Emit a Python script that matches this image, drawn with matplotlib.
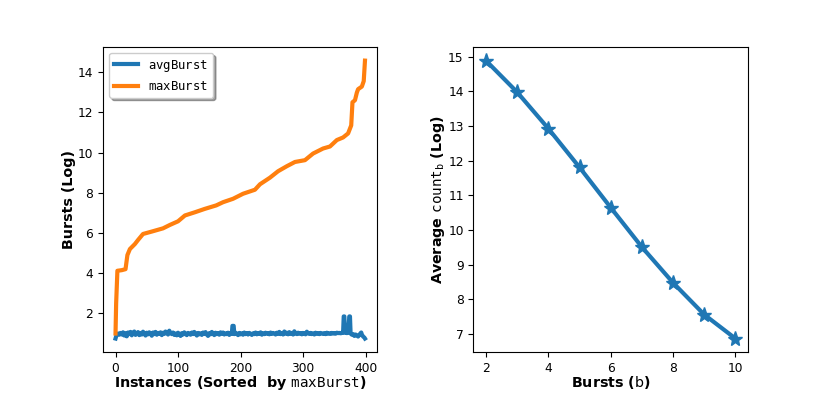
import matplotlib
matplotlib.use("Agg")
import matplotlib.pyplot as plt

# ---- left panel data ----
max_x = [0, 1, 3, 10, 16, 19, 23, 31, 36, 44, 58, 76, 87, 100, 111, 127, 143, 161, 172,
         188, 204, 223, 231, 247, 260, 274, 287, 303, 316, 332, 343, 354, 364, 372, 377,
         379, 383, 386, 388, 394, 397, 399]
max_burst = [1.0, 2.5, 4.12, 4.15, 4.2, 4.9, 5.2, 5.45, 5.65, 5.95, 6.07, 6.23, 6.4, 6.58,
             6.87, 7.03, 7.2, 7.37, 7.53, 7.7, 7.95, 8.15, 8.42, 8.75, 9.07, 9.32, 9.53,
             9.62, 9.95, 10.2, 10.3, 10.62, 10.75, 10.95, 11.35, 12.5, 12.6, 12.98, 13.15,
             13.28, 13.55, 14.57]

avg_x = [0, 2, 4, 6, 8, 10, 12, 14, 16, 18,
         20, 22, 24, 26, 28, 30, 32, 34, 36, 38,
         40, 42, 44, 46, 48, 50, 52, 54, 56, 58,
         60, 62, 64, 66, 68, 70, 72, 74, 76, 78,
         80, 82, 84, 86, 88, 90, 92, 94, 96, 98,
         100, 102, 104, 106, 108, 110, 112, 114, 116, 118,
         120, 122, 124, 126, 128, 130, 132, 134, 136, 138,
         140, 142, 144, 146, 148, 150, 152, 154, 156, 158,
         160, 162, 164, 166, 168, 170, 172, 174, 176, 178,
         180, 182, 184, 186,
         187, 189,
         190, 192, 194, 196, 198, 200, 202, 204, 206, 208,
         210, 212, 214, 216, 218, 220, 222, 224, 226, 228,
         230, 232, 234, 236, 238, 240, 242, 244, 246, 248,
         250, 252, 254, 256, 258, 260, 262, 264, 266, 268,
         270, 272, 274, 276, 278, 280, 282, 284, 286, 288,
         290, 292, 294, 296, 298, 300, 302, 304, 306, 308,
         310, 312, 314, 316, 318, 320, 322, 324, 326, 328,
         330, 332, 334, 336, 338, 340, 342, 344, 346, 348,
         350, 352, 354, 356, 358, 360, 362,
         364, 365, 366, 367, 369, 370, 372, 374, 375, 376,
         378, 380, 382, 384, 386, 388, 390, 392, 393, 394,
         396, 398, 399]
avg_burst = [0.75, 0.97, 1.00, 0.94, 1.03, 0.95, 1.06, 0.90, 1.02, 0.86,
             1.05, 0.97, 1.08, 0.91, 1.04, 1.10, 0.93, 0.99, 1.07, 0.92,
             1.03, 0.95, 1.09, 0.98, 0.90, 1.04, 0.96, 1.06, 1.00, 0.89,
             1.05, 0.97, 1.08, 0.94, 1.03, 0.99, 1.06, 0.92, 1.04, 0.98,
             1.10, 1.02, 0.95, 1.14, 1.03, 0.97, 1.05, 0.93, 1.00, 0.91,
             1.04, 0.97, 0.88, 1.02, 0.95, 1.06, 0.98, 0.92, 1.03, 1.00,
             0.94, 1.05, 0.97, 1.08, 0.99, 0.90, 1.03, 0.96, 1.01, 0.93,
             1.05, 0.98, 1.07, 0.95, 0.88, 1.02, 0.96, 1.08, 1.00, 0.92,
             1.04, 0.97, 1.02, 0.94, 1.06, 0.99, 1.05, 0.95, 1.01, 0.97,
             1.04, 0.93, 1.01, 0.98,
             1.38, 1.38,
             0.97, 1.04, 0.99, 0.92, 1.03, 0.96, 1.01, 0.94, 1.05, 0.97,
             1.02, 0.95, 1.03, 0.99, 0.93, 1.01, 0.97, 1.05, 0.96, 1.02,
             0.98, 1.06, 0.94, 1.01, 0.97, 1.04, 0.99, 1.02, 0.96, 1.05,
             0.98, 1.03, 1.00, 0.95, 1.04, 0.98, 1.08, 0.97, 1.02, 0.95,
             1.10, 0.99, 1.04, 0.96, 1.07, 0.98, 1.03, 0.95, 1.11, 1.00,
             0.97, 1.04, 0.99, 1.02, 0.96, 1.03, 1.00, 0.96, 1.09, 1.01,
             0.98, 1.03, 0.97, 1.01, 0.95, 1.04, 0.99, 1.02, 0.97, 1.03,
             1.00, 0.98, 1.02, 0.97, 1.04, 0.99, 1.01, 0.98, 1.03, 1.00,
             1.02, 0.99, 1.04, 1.02, 1.03, 1.01, 1.03,
             1.03, 1.85, 1.85, 1.05, 1.08, 1.02, 1.04, 1.85, 1.85, 1.00,
             0.94, 0.97, 0.88, 0.95, 0.90, 0.85, 0.93, 1.02, 1.05, 0.95,
             0.85, 0.80, 0.75]

# ---- right panel data ----
bursts = [2, 3, 4, 5, 6, 7, 8, 9, 10]
avg_count = [14.89, 13.98, 12.93, 11.81, 10.65, 9.51, 8.48, 7.56, 6.87]

plt.rcParams['font.size'] = 8.8

fig, (ax1, ax2) = plt.subplots(1, 2, figsize=(8.31, 3.96), dpi=100)
fig.subplots_adjust(left=0.124, right=0.9, bottom=0.11, top=0.882, wspace=0.35)

ax1.plot(avg_x, avg_burst, color='#1f77b4', lw=3, label=r'$\mathtt{avgBurst}$')
ax1.plot(max_x, max_burst, color='#ff7f0e', lw=3, label=r'$\mathtt{maxBurst}$')
ax1.set_ylabel('Bursts (Log)', fontweight='bold', fontsize=10.3, labelpad=1)
ax1.set_xlabel(r'Instances (Sorted  by $\mathtt{maxBurst}$)', fontweight='bold', fontsize=10.3,
               labelpad=-0.5)
ax1.legend(loc='upper left', shadow=True, fancybox=True, fontsize=8.8)

ax2.plot(bursts, avg_count, color='#1f77b4', lw=3, marker='*', markersize=11)
ax2.set_xlabel(r'Bursts ($\mathrm{b}$)', fontweight='bold', fontsize=10.3, labelpad=-0.5)
ax2.set_ylabel(r'Average $\mathtt{count}_\mathtt{b}$ (Log)', fontweight='bold', fontsize=10.3,
               labelpad=1)

fig.savefig('out.png', dpi=100)
